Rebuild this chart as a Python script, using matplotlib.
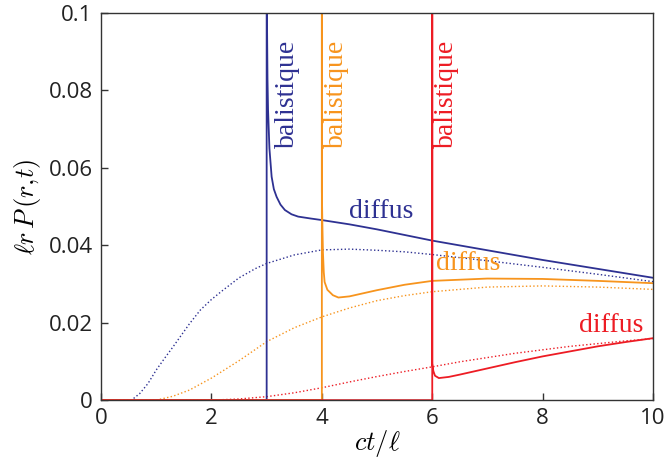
import matplotlib.pyplot as plt

plt.rcParams['mathtext.fontset'] = 'cm'

blue = '#2e3192'
orange = '#f7941d'
red = '#ed1c24'

# full solution (ballistic peak + diffuse tail), r = 3, 4, 6
x_r3 = [0, 3, 3, 3.005, 3.015, 3.025, 3.05, 3.09, 3.13, 3.18, 3.25, 3.33, 3.45, 3.57, 3.8, 4.0, 4.5, 5, 6, 7, 8, 9, 10]
y_r3 = [0, 0, 0.2, 0.1, 0.083, 0.075, 0.065, 0.0577, 0.0545, 0.0525, 0.0505, 0.0491, 0.048, 0.0474, 0.0469, 0.0465, 0.0454, 0.0441, 0.0412, 0.0387, 0.0362, 0.0339, 0.0316]

x_r4 = [0, 4, 4, 4, 4.01, 4.02, 4.035, 4.05, 4.1, 4.2, 4.3, 4.5, 5, 5.5, 6, 7, 8, 9, 10]
y_r4 = [0, 0, 0.2, 0.054, 0.045, 0.038, 0.033, 0.0305, 0.0285, 0.0271, 0.0265, 0.0268, 0.0284, 0.0298, 0.0308, 0.0314, 0.0313, 0.0308, 0.0302]

x_r6 = [0, 6, 6, 6, 6.02, 6.05, 6.12, 6.3, 6.5, 7, 7.5, 8, 8.5, 9, 9.5, 10]
y_r6 = [0, 0, 0.2, 0.0095, 0.0075, 0.0063, 0.0057, 0.006, 0.0066, 0.0082, 0.0098, 0.0113, 0.0126, 0.0139, 0.015, 0.016]

# diffusion approximation
xd_r3 = [0, 0.55, 0.7, 0.85, 1.0, 1.15, 1.3, 1.45, 1.6, 1.8, 2.0, 2.2, 2.5, 2.8, 3.0, 3.5, 4.0, 4.5, 5, 5.5, 6, 7, 8, 9, 10]
yd_r3 = [0, 0, 0.0017, 0.0043, 0.0078, 0.0108, 0.0137, 0.0167, 0.0197, 0.0233, 0.026, 0.0283, 0.0316, 0.034, 0.0353, 0.0375, 0.0388, 0.039, 0.0387, 0.0383, 0.0376, 0.036, 0.0343, 0.0325, 0.0306]

xd_r4 = [0, 1.0, 1.3, 1.6, 2.0, 2.5, 3.0, 3.5, 4.0, 4.5, 5.0, 5.5, 6.0, 7.0, 8.0, 9.0, 10.0]
yd_r4 = [0, 0, 0.001, 0.0026, 0.0057, 0.0102, 0.0151, 0.0187, 0.0215, 0.0238, 0.0257, 0.027, 0.028, 0.0292, 0.0295, 0.0292, 0.0286]

xd_r6 = [0, 2.0, 2.5, 3.0, 3.5, 4.0, 4.5, 5.0, 5.5, 6.0, 6.5, 7.0, 7.5, 8.0, 8.5, 9.0, 9.5, 10.0]
yd_r6 = [0, 0, 0.0003, 0.0009, 0.0019, 0.0032, 0.0047, 0.0061, 0.0074, 0.0086, 0.0099, 0.011, 0.0121, 0.013, 0.0139, 0.0146, 0.0153, 0.0159]

xticks = [0, 2, 4, 6, 8, 10]
yticks = [0, 0.02, 0.04, 0.06, 0.08, 0.1]
yticklabels = ['0', '0.02', '0.04', '0.06', '0.08', '0.1']

fig = plt.figure(figsize=(6.65, 4.61), dpi=100)
ax = fig.add_axes([0.152, 0.132, 0.830, 0.840])

ax.plot(xd_r3, yd_r3, ':', color=blue, lw=1)
ax.plot(xd_r4, yd_r4, ':', color=orange, lw=1)
ax.plot(xd_r6, yd_r6, ':', color=red, lw=1)
ax.plot(x_r3, y_r3, '-', color=blue, lw=1.3)
ax.plot(x_r4, y_r4, '-', color=orange, lw=1.3)
ax.plot(x_r6, y_r6, '-', color=red, lw=1.3)

ax.set_xlim(0, 10)
ax.set_ylim(0, 0.1)
ax.set_xticks(xticks)
ax.set_xticklabels([str(t) for t in xticks])
ax.set_yticks(yticks)
ax.set_yticklabels(yticklabels)
ax.tick_params(direction='in', length=5, width=1, color='#333333',
               labelsize=16, pad=6, top=False, right=False)
for lab in ax.get_xticklabels() + ax.get_yticklabels():
    lab.set_family('Open Sans')
    lab.set_color('#222222')
for s in ax.spines.values():
    s.set_color('#333333')
    s.set_linewidth(1)

ax.set_xlabel(r'$ct/\ell$', fontsize=19, labelpad=-1)
ax.set_ylabel(r'$\ell r\,P\,(r{,}t)$', fontsize=19, labelpad=4)

serif = 'Liberation Serif'
ax.text(3.38, 0.093, 'balistique', rotation=90, color=blue, fontsize=20,
        family=serif, ha='center', va='top')
ax.text(4.26, 0.093, 'balistique', rotation=90, color=orange, fontsize=20,
        family=serif, ha='center', va='top')
ax.text(6.25, 0.093, 'balistique', rotation=90, color=red, fontsize=20,
        family=serif, ha='center', va='top')
ax.text(4.5, 0.047, 'diffus', color=blue, fontsize=20, family=serif, va='baseline')
ax.text(6.07, 0.0336, 'diffus', color=orange, fontsize=20, family=serif, va='baseline')
ax.text(8.66, 0.0176, 'diffus', color=red, fontsize=20, family=serif, va='baseline')

fig.savefig('out.png', dpi=100)
